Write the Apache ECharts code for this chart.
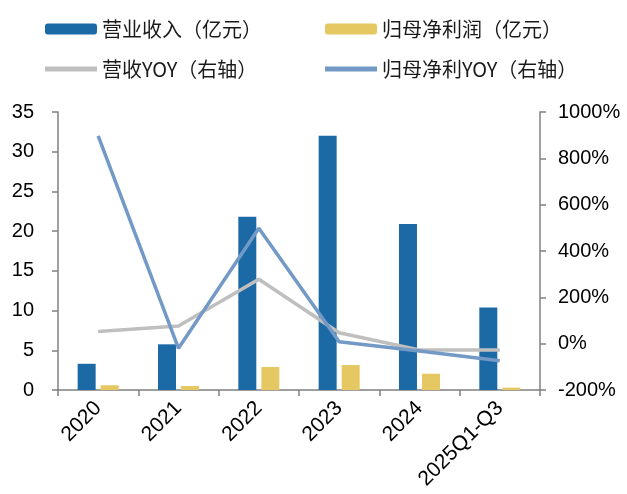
<!DOCTYPE html>
<html>
<head>
<meta charset="utf-8">
<script src="https://cdn.jsdelivr.net/npm/echarts@6/dist/echarts.min.js"></script>
<style>
  html, body { margin: 0; padding: 0; background: #fff; }
  #main { width: 627px; height: 494px; }
</style>
</head>
<body>
<div id="main"></div>
<script>
const categories = ['2020', '2021', '2022', '2023', '2024', '2025Q1-Q3'];
const revenue = [3.3, 5.75, 21.8, 32.0, 20.9, 10.4];
const netProfit = [0.6, 0.5, 2.9, 3.15, 2.05, 0.3];
const revenueYoy = [52, 76, 278, 47, -27, -27];
const profitYoy = [897, -20, 498, 8, -32, -74];

const font = 'Liberation Sans, Arial, sans-serif';
const cnFont = 'Noto Sans CJK SC, sans-serif';
const axisGray = '#808080';

const chart = echarts.init(document.getElementById('main'));

const legendBase = {
  itemWidth: 52,
  itemHeight: 11,
  itemGap: 7,
  textStyle: { fontFamily: cnFont, fontSize: 20, color: '#1a1a1a' }
};
const lineIcon = 'path://M0,0 L52,0 L52,5 L0,5 Z';

const option = {
  animation: false,
  legend: [
    Object.assign({ data: ['营业收入（亿元）'], left: 40, top: 14 }, legendBase),
    Object.assign({ data: ['归母净利润（亿元）'], left: 320, top: 14 }, legendBase),
    Object.assign({ data: [{ name: '营收YOY（右轴）', icon: lineIcon }], left: 40, top: 54 }, legendBase, { itemHeight: 5 }),
    Object.assign({ data: [{ name: '归母净利YOY（右轴）', icon: lineIcon }], left: 320, top: 54 }, legendBase, { itemHeight: 5 })
  ],
  grid: { left: 58, right: 87, top: 112, bottom: 104 },
  xAxis: {
    type: 'category',
    data: categories,
    axisLine: { lineStyle: { color: axisGray, width: 1.5 } },
    axisTick: { show: true, length: 6, lineStyle: { color: axisGray, width: 1.5 } },
    axisLabel: {
      rotate: 45,
      margin: 15,
      fontFamily: font,
      fontSize: 21,
      color: '#000'
    }
  },
  yAxis: [
    {
      type: 'value',
      min: 0,
      max: 35,
      interval: 5,
      splitLine: { show: false },
      axisLine: { show: true, lineStyle: { color: axisGray, width: 1.5 } },
      axisTick: { show: true, length: 6, lineStyle: { color: axisGray, width: 1.5 } },
      axisLabel: { margin: 24, fontFamily: font, fontSize: 20, color: '#000' }
    },
    {
      type: 'value',
      min: -200,
      max: 1000,
      interval: 200,
      splitLine: { show: false },
      axisLine: { show: true, lineStyle: { color: axisGray, width: 1.5 } },
      axisTick: { show: true, length: 6, lineStyle: { color: axisGray, width: 1.5 } },
      axisLabel: { margin: 18, fontFamily: font, fontSize: 20, color: '#000', formatter: (v) => v + '%' }
    }
  ],
  series: [
    {
      name: '营业收入（亿元）',
      type: 'bar',
      data: revenue,
      barWidth: 18,
      barGap: '28%',
      itemStyle: { color: '#1b6aa5' }
    },
    {
      name: '归母净利润（亿元）',
      type: 'bar',
      data: netProfit,
      barWidth: 18,
      barGap: '28%',
      itemStyle: { color: '#e5c862' }
    },
    {
      name: '营收YOY（右轴）',
      type: 'line',
      yAxisIndex: 1,
      data: revenueYoy,
      symbol: 'none',
      lineStyle: { color: '#bfbfbf', width: 3.5 },
      itemStyle: { color: '#bfbfbf' }
    },
    {
      name: '归母净利YOY（右轴）',
      type: 'line',
      yAxisIndex: 1,
      data: profitYoy,
      symbol: 'none',
      lineStyle: { color: '#7399c6', width: 3.5 },
      itemStyle: { color: '#7399c6' }
    }
  ]
};

chart.setOption(option);
</script>
</body>
</html>
